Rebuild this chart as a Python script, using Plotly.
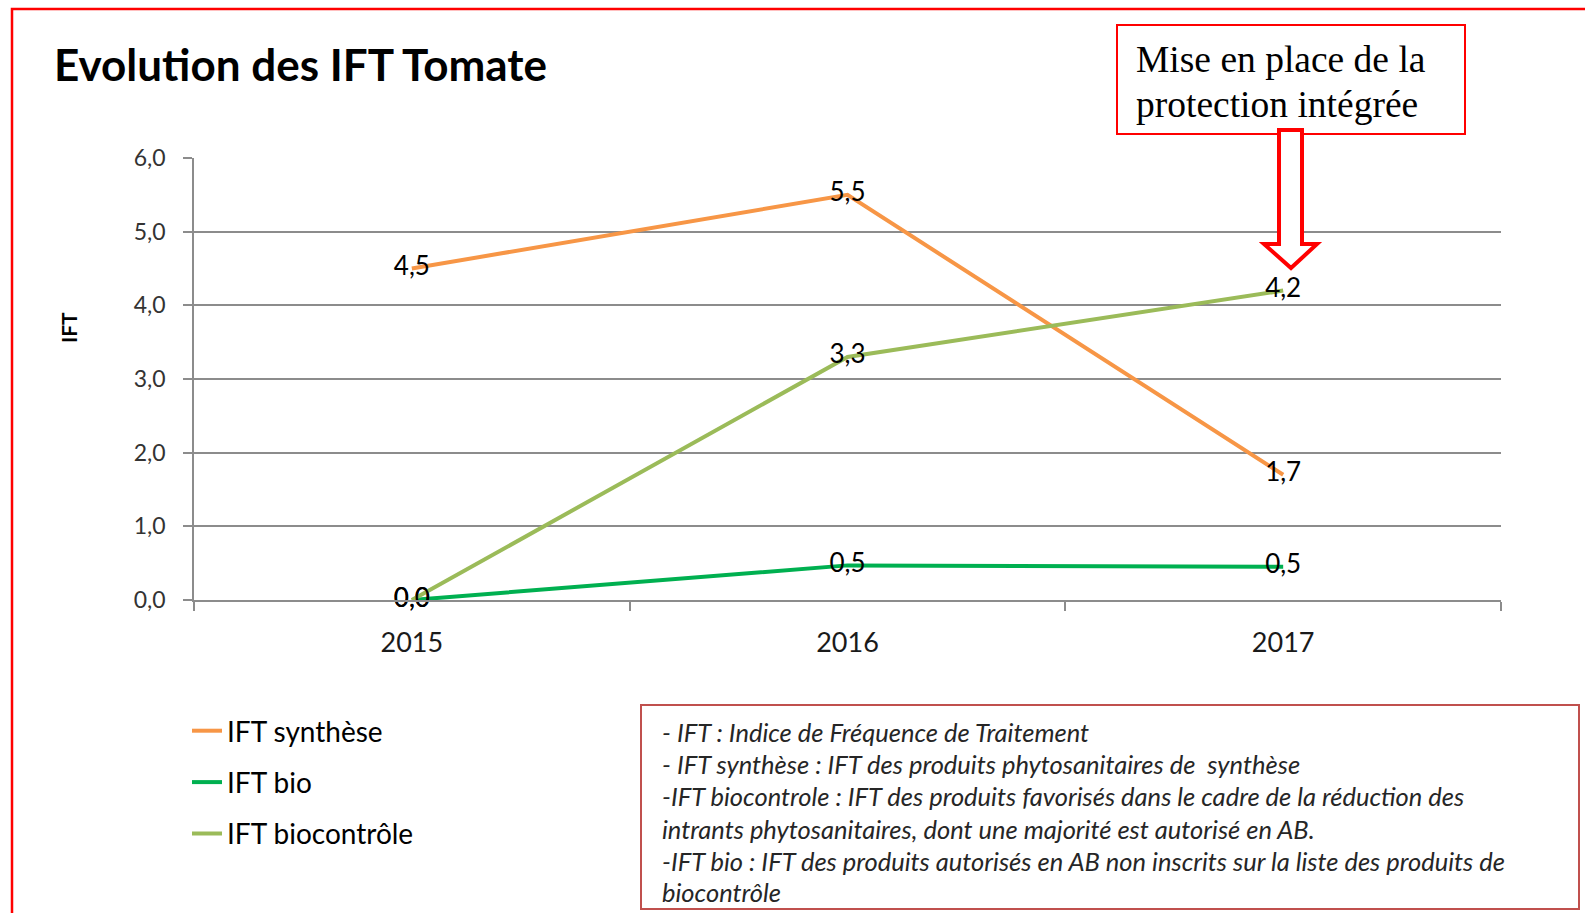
import plotly.graph_objects as go

# ---- data ----
years = ["2015", "2016", "2017"]
ift_synthese = [4.5, 5.5, 1.7]
ift_bio = [0.0, 0.47, 0.45]
ift_biocontrole = [0.0, 3.3, 4.2]
series_names = ["IFT synthèse", "IFT bio", "IFT biocontrôle"]
series_colors = ["#F79646", "#00B050", "#9BBB59"]
y_ticks = [0, 1, 2, 3, 4, 5, 6]
title_text = "Evolution des IFT Tomate"
y_title = "IFT"
callout_lines = ["Mise en place de la", "protection intégrée"]
note_lines = [
    "- IFT : Indice de Fréquence de Traitement",
    "- IFT synthèse : IFT des produits phytosanitaires de  synthèse",
    "-IFT biocontrole : IFT des produits favorisés dans le cadre de la réduction des",
    "intrants phytosanitaires, dont une majorité est autorisé en AB.",
    "-IFT bio : IFT des produits autorisés en AB non inscrits sur la liste des produits de",
    "biocontrôle",
]

# ---- geometry (pixels) ----
W, H = 1585, 913
L, R, T, B = 194, 1501, 158, 600


def px(x):
    return (x - L) / (R - L)


def py(y):
    return (B - y) / (B - T)


def fmt(v):
    return f"{v:.1f}".replace(".", ",")


fig = go.Figure()
for name, vals, col in zip(series_names, [ift_synthese, ift_bio, ift_biocontrole], series_colors):
    fig.add_trace(go.Scatter(
        x=years, y=vals, name=name, mode="lines+text",
        line=dict(color=col, width=4),
        text=[fmt(v) for v in vals], textposition="middle center",
        textfont=dict(family="Lato", size=26, color="#000000"),
        cliponaxis=False, legendgroup=name,
    ))

grid_col = "#8c8c8c"
fig.update_layout(
    width=W, height=H,
    margin=dict(l=L, r=W - R, t=T, b=H - B, pad=0),
    paper_bgcolor="white", plot_bgcolor="white",
    separators=", ",
    showlegend=True,
    legend=dict(
        x=px(187), y=py(706), xanchor="left", yanchor="top",
        font=dict(family="Lato", size=28, color="#000000"),
        tracegroupgap=12, bgcolor="rgba(0,0,0,0)",
    ),
    xaxis=dict(
        type="category", categoryorder="array", categoryarray=years,
        range=[-0.5, 2.5], showgrid=False,
        showline=True, linecolor=grid_col, linewidth=1.5,
        ticks="outside", tickson="boundaries", ticklen=9, tickcolor=grid_col, tickwidth=1.5,
        tickfont=dict(family="Lato", size=27, color="#1a1a1a"),
        ticklabelstandoff=18,
    ),
    yaxis=dict(
        range=[0, 6], tickvals=y_ticks, tickformat=".1f",
        showgrid=True, gridcolor=grid_col, gridwidth=1.5,
        showline=True, linecolor=grid_col, linewidth=1.5,
        ticks="outside", ticklen=9, tickcolor=grid_col, tickwidth=1.5,
        tickfont=dict(family="Lato", size=23, color="#333333"),
        ticklabelstandoff=13, zeroline=False,
    ),
)

shapes = []
# outer red frame
shapes.append(dict(type="rect", xref="paper", yref="paper",
                   x0=px(12), x1=px(1620), y0=py(9), y1=py(960),
                   line=dict(color="#FF0000", width=2.5), fillcolor="rgba(0,0,0,0)", layer="above"))
# note box
shapes.append(dict(type="rect", xref="paper", yref="paper",
                   x0=px(641), x1=px(1579), y0=py(705), y1=py(909),
                   line=dict(color="#C0504D", width=2), fillcolor="rgba(0,0,0,0)"))
# callout box
shapes.append(dict(type="rect", xref="paper", yref="paper",
                   x0=px(1117), x1=px(1465), y0=py(25), y1=py(134),
                   line=dict(color="#FF0000", width=2), fillcolor="white"))
# hollow block arrow
pts = [(1279, 130), (1302, 130), (1302, 244), (1317, 244), (1291, 268), (1264, 244), (1279, 244)]
path = "M " + " L ".join(f"{px(x):.5f},{py(y):.5f}" for x, y in pts) + " Z"
shapes.append(dict(type="path", xref="paper", yref="paper", path=path,
                   line=dict(color="#FF0000", width=4), fillcolor="white", layer="above"))
fig.update_layout(shapes=shapes)

ann = []
ann.append(dict(text=f"<b>{title_text}</b>", xref="paper", yref="paper",
                x=px(52), y=py(64), xanchor="left", yanchor="middle", showarrow=False,
                font=dict(family="Lato", size=44, color="#000000")))
ann.append(dict(text=f"<b>{y_title}</b>", xref="paper", yref="paper",
                x=px(68), y=py(328), xanchor="center", yanchor="middle", showarrow=False,
                textangle=-90, font=dict(family="Lato", size=21, color="#000000")))
for line, yy in zip(callout_lines, [60, 104]):
    ann.append(dict(text=line, xref="paper", yref="paper",
                    x=px(1134), y=py(yy), xanchor="left", yanchor="middle", showarrow=False,
                    font=dict(family="Liberation Serif", size=37.5, color="#000000")))
note_y = [732, 764, 796, 829, 861, 892]
for line, yy in zip(note_lines, note_y):
    ann.append(dict(text=f"<i>{line}</i>", xref="paper", yref="paper",
                    x=px(660), y=py(yy), xanchor="left", yanchor="middle", showarrow=False,
                    font=dict(family="Lato", size=25.5, color="#262626")))
fig.update_layout(annotations=ann)

fig.write_html("out.html", config={"displayModeBar": False},
               post_script="document.body.style.margin='0px';document.body.style.overflow='hidden';")
